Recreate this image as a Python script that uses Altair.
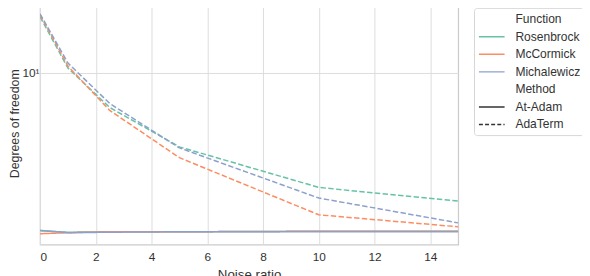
import altair as alt
import pandas as pd

noise = [0, 1, 2.5, 5, 10, 15]
functions = ["Rosenbrock", "McCormick", "Michalewicz"]
methods = ["At-Adam", "AdaTerm"]
colors = ["#66c2a5", "#fc8d62", "#8da0cb"]

# AdaTerm (dashed)
ada_rosenbrock = [19.95, 10.62, 6.54, 4.03, 2.45, 2.07]
ada_mccormick = [20.44, 10.88, 6.31, 3.53, 1.75, 1.51]
ada_michalewicz = [20.69, 11.29, 6.87, 3.98, 2.15, 1.585]

# At-Adam (solid)
at_rosenbrock = [1.438, 1.413, 1.421, 1.421, 1.430, 1.430]
at_mccormick = [1.387, 1.404, 1.421, 1.421, 1.430, 1.430]
at_michalewicz = [1.447, 1.404, 1.413, 1.421, 1.421, 1.421]

series = {
    ("Rosenbrock", "At-Adam"): at_rosenbrock,
    ("McCormick", "At-Adam"): at_mccormick,
    ("Michalewicz", "At-Adam"): at_michalewicz,
    ("Rosenbrock", "AdaTerm"): ada_rosenbrock,
    ("McCormick", "AdaTerm"): ada_mccormick,
    ("Michalewicz", "AdaTerm"): ada_michalewicz,
}
rows = []
for (fn, m), vals in series.items():
    for x, v in zip(noise, vals):
        rows.append({"Noise": x, "DoF": v, "Function": fn, "Method": m})
df = pd.DataFrame(rows)

legend_domain = ["Function"] + functions + ["Method"] + methods
legend_range = ["rgba(0,0,0,0)"] + colors + ["rgba(0,0,0,0)", "#333333", "#333333"]

FONT = "Liberation Sans"
TXT = "#333333"

chart = alt.Chart(df).mark_line(strokeWidth=1.5, clip=True).encode(
    x=alt.X("Noise:Q",
            scale=alt.Scale(domain=[0, 15], nice=False, zero=False),
            axis=alt.Axis(values=[0, 2, 4, 6, 8, 10, 12, 14], title="Noise ratio",
                          labelPadding=7, titlePadding=5)),
    y=alt.Y("DoF:Q",
            scale=alt.Scale(type="log", domain=[1.214, 23.93], nice=False, zero=False),
            axis=alt.Axis(values=[10], labelExpr="'10¹'", title="Degrees of freedom",
                          labelPadding=1, titleX=-19, titleY=123, titleAngle=270,
                          titleAlign="center", titleBaseline="bottom", titleFontSize=12.5)),
    color=alt.Color("Function:N",
                    scale=alt.Scale(domain=legend_domain, range=legend_range),
                    legend=alt.Legend(
                        title=None, orient="none", legendX=440, legendY=6,
                        symbolType="M-1,0H3", symbolSize=169, symbolStrokeWidth=1.5,
                        symbolDash={"expr": "datum.value === 'AdaTerm' ? [4, 2.2] : [1, 0]"},
                        labelFont=FONT, labelFontSize=12.2, labelColor=TXT,
                        labelOffset=23, padding=4, rowPadding=3.8,
                        strokeColor="#d6d6d6", fillColor="white", cornerRadius=3)),
    strokeDash=alt.StrokeDash("Method:N",
                              scale=alt.Scale(domain=methods, range=[[1, 0], [5.5, 2.4]]),
                              legend=None),
).properties(
    width=424, height=246,
    padding={"left": 32.5, "top": -8, "right": 125.5, "bottom": 30},
    autosize=alt.AutoSizeParams(type="none"),
).configure_view(
    stroke="#cccccc", strokeWidth=1.25
).configure_axis(
    grid=True, gridColor="#dcdcdc", gridWidth=1, domain=False, ticks=False,
    labelFont=FONT, labelFontSize=12, labelColor=TXT,
    titleFont=FONT, titleFontSize=13.5, titleColor=TXT, titleFontWeight="normal",
)

chart.save("out.html", embed_options={"renderer": "svg", "actions": False})
